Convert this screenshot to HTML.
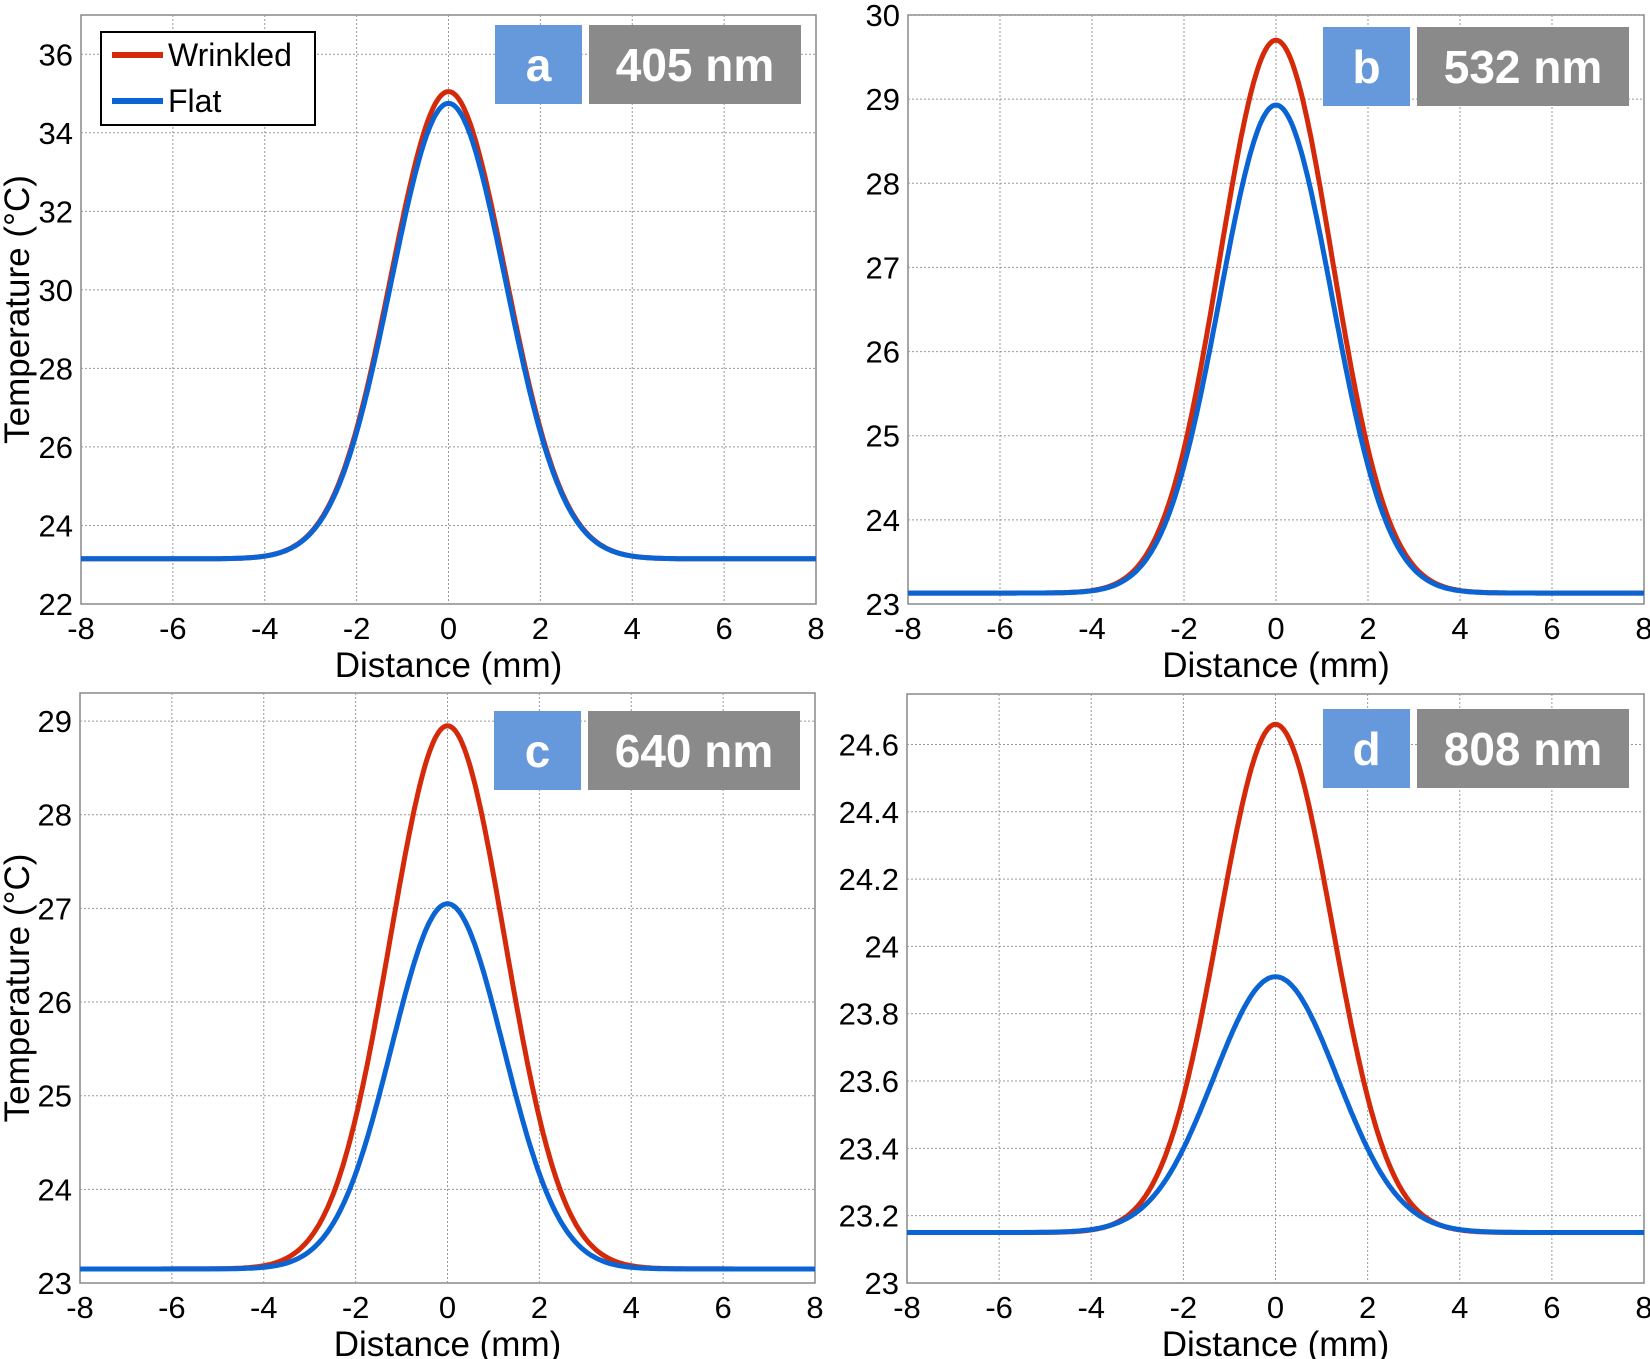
<!DOCTYPE html>
<html><head><meta charset="utf-8"><style>
html,body{margin:0;padding:0;background:#fff;}
svg{display:block;font-family:"Liberation Sans",Arial,sans-serif;}
</style></head><body>
<svg id="s" width="1650" height="1359" viewBox="0 0 1650 1359" xmlns="http://www.w3.org/2000/svg"></svg>
<script>
var s=document.getElementById('s'),out='';
var panels=[
 {x0:81,x1:816,y0:15,y1:604,ymin:22,ymax:37,ticks:[22,24,26,28,30,32,34,36],fmt:function(v){return v;},base:23.15,red:[35.05,1.25],blue:[34.75,1.25],lab:'a',nm:'405 nm',by:25,ylab:true,leg:true},
 {x0:908,x1:1644,y0:15,y1:604,ymin:23,ymax:30,ticks:[23,24,25,26,27,28,29,30],fmt:function(v){return v;},base:23.13,red:[29.7,1.22],blue:[28.93,1.22],lab:'b',nm:'532 nm',by:27},
 {x0:80,x1:815,y0:693,y1:1283,ymin:23,ymax:29.3,ticks:[23,24,25,26,27,28,29],fmt:function(v){return v;},base:23.15,red:[28.95,1.25],blue:[27.05,1.22],lab:'c',nm:'640 nm',by:711,ylab:true},
 {x0:907,x1:1644,y0:694,y1:1283,ymin:23,ymax:24.75,ticks:[23,23.2,23.4,23.6,23.8,24,24.2,24.4,24.6],fmt:function(v){return (Math.round(v*10)/10).toString();},base:23.15,red:[24.66,1.23],blue:[23.91,1.34],lab:'d',nm:'808 nm',by:709}
];
panels.forEach(function(p){
 var W=p.x1-p.x0,H=p.y1-p.y0;
 function X(v){return p.x0+(v+8)/16*W;}
 function Y(v){return p.y1-(v-p.ymin)/(p.ymax-p.ymin)*H;}
 out+='<rect x="'+p.x0+'" y="'+p.y0+'" width="'+W+'" height="'+H+'" fill="#fff" stroke="#888" stroke-width="1.5"/>';
 for(var v=-8;v<=8;v+=2){var x=X(v);
  if(v>-8&&v<8)out+='<line x1="'+x+'" y1="'+p.y0+'" x2="'+x+'" y2="'+p.y1+'" stroke="#999" stroke-width="1" stroke-dasharray="2,2"/>';
  out+='<text x="'+x+'" y="'+(p.y1+35)+'" font-size="31" text-anchor="middle">'+v+'</text>';}
 p.ticks.forEach(function(t){var y=Y(t);
  if(t>p.ymin)out+='<line x1="'+p.x0+'" y1="'+y+'" x2="'+p.x1+'" y2="'+y+'" stroke="#999" stroke-width="1" stroke-dasharray="2,2"/>';
  out+='<text x="'+(p.x0-8)+'" y="'+(y+11)+'" font-size="31" text-anchor="end">'+p.fmt(t)+'</text>';});
 out+='<text x="'+((p.x0+p.x1)/2)+'" y="'+(p.y1+73)+'" font-size="35" text-anchor="middle">Distance (mm)</text>';
 if(p.ylab)out+='<text transform="translate(29,'+((p.y0+p.y1)/2)+') rotate(-90)" font-size="35" text-anchor="middle">Temperature (°C)</text>';
 [['#d42a0a',p.red],['#0a64d4',p.blue]].forEach(function(c){
  var d='';for(var i=0;i<=400;i++){var xv=-8+16*i/400;var yv=p.base+(c[1][0]-p.base)*Math.exp(-xv*xv/(2*c[1][1]*c[1][1]));
   d+=(i?'L':'M')+X(xv).toFixed(1)+' '+Y(yv).toFixed(1);}
  out+='<path d="'+d+'" fill="none" stroke="'+c[0]+'" stroke-width="5"/>';});
 var bx=p.x1-321;
 out+='<rect x="'+bx+'" y="'+p.by+'" width="87" height="79" fill="#6699db"/>';
 out+='<text x="'+(bx+43.5)+'" y="'+(p.by+56)+'" font-size="46" font-weight="bold" fill="#fff" text-anchor="middle">'+p.lab+'</text>';
 out+='<rect x="'+(bx+94)+'" y="'+p.by+'" width="212" height="79" fill="#8a8a8a"/>';
 out+='<text x="'+(bx+200)+'" y="'+(p.by+56)+'" font-size="46" font-weight="bold" fill="#fff" text-anchor="middle">'+p.nm+'</text>';
 if(p.leg){
  out+='<rect x="101" y="32" width="214" height="93" fill="#fff" stroke="#000" stroke-width="2"/>';
  out+='<line x1="112" y1="55" x2="163" y2="55" stroke="#d42a0a" stroke-width="6"/>';
  out+='<line x1="112" y1="101" x2="163" y2="101" stroke="#0a64d4" stroke-width="6"/>';
  out+='<text x="168" y="66" font-size="32">Wrinkled</text>';
  out+='<text x="168" y="112" font-size="32">Flat</text>';
 }
});
s.innerHTML=out;
</script>
</body></html>
